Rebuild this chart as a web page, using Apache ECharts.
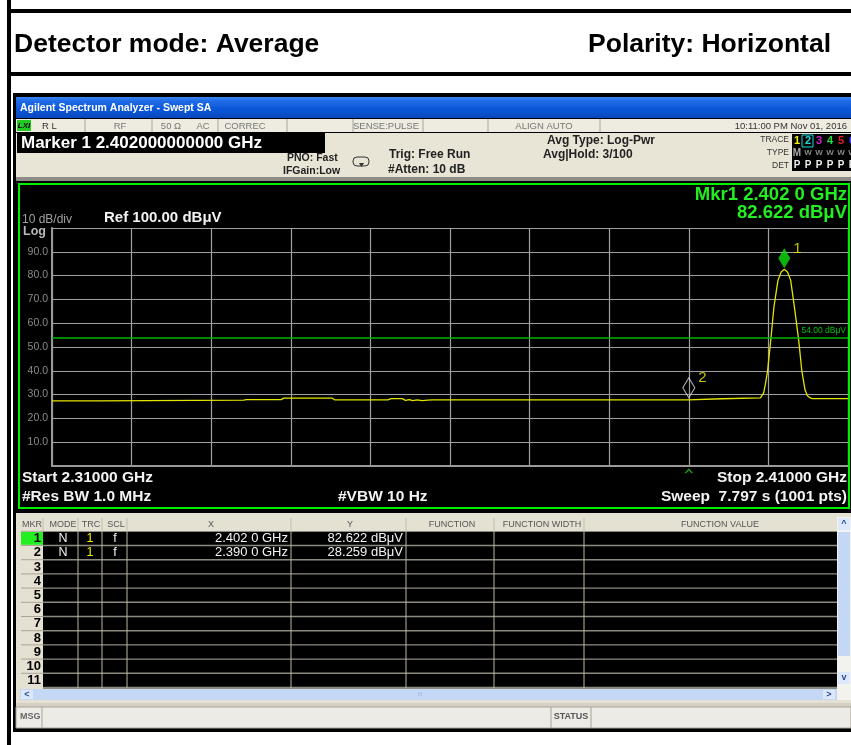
<!DOCTYPE html>
<html>
<head>
<meta charset="utf-8">
<script src="https://cdn.jsdelivr.net/npm/echarts@6/dist/echarts.min.js"></script>
<style>
html, body { margin: 0; padding: 0; background: #fff; }
#chart { width: 851px; height: 745px; }
</style>
</head>
<body>
<div id="chart"></div>
<script>
// trace 1 (average detector)
const freqGHz = [2.3100, 2.3158, 2.3160, 2.3341, 2.3344, 2.3388, 2.3391, 2.3452, 2.3455, 2.3522,
    2.3526, 2.3540, 2.3544, 2.3549, 2.3553, 2.3559, 2.3565, 2.3572, 2.3578, 2.3899,
    2.3901, 2.3942, 2.3944, 2.3990, 2.3994, 2.3996, 2.3999, 2.4003, 2.4007, 2.4012,
    2.4016, 2.4020, 2.4024, 2.4028, 2.4033, 2.4038, 2.4042, 2.4046, 2.4049, 2.4053,
    2.4056, 2.4100]
const levelDbuV = [27.4, 27.4, 27.7, 27.7, 27.9, 27.9, 28.5, 28.5, 27.8, 27.8,
    28.3, 28.3, 27.6, 27.9, 27.5, 27.8, 27.5, 27.7, 27.8, 27.8,
    28.26, 28.26, 28.6, 28.6, 30.7, 34, 40, 53, 67, 78,
    81.5, 82.62, 81.5, 78, 66, 53, 40, 32, 29.5, 28.5,
    28.3, 28.3]

// markers
const markerFreq = [2.402, 2.390]
const markerLevel = [82.622, 28.259]
const markerName = ['1', '2']
const limitDbuV = 54

// axis
const startGHz = 2.31
const stopGHz = 2.41
const refLevel = 100
const dbPerDiv = 10

// marker table
const tableHeads = ['MKR', 'MODE', 'TRC', 'SCL', 'X', 'Y', 'FUNCTION', 'FUNCTION WIDTH', 'FUNCTION VALUE']
const tableMode = ['N', 'N']
const tableTrc = ['1', '1']
const tableScl = ['f', 'f']
const tableX = ['2.402 0 GHz', '2.390 0 GHz']
const tableY = ['82.622 dBμV', '28.259 dBμV']
const tableRowCount = 11

const traceNums = ['1', '2', '3', '4', '5', '6']
const traceColors = ['#f0f000', '#20d8d8', '#d020d0', '#20e040', '#e02020', '#4040ff']
const traceTypes = ['M', 'W', 'W', 'W', 'W', 'W']

const FONT = '"Liberation Sans", Arial, sans-serif'

function txt(x, y, text, size, fill, opt) {
    opt = opt || {}
    return {
        type: 'text', z: 20, silent: true,
        style: {
            x: x, y: y, text: text, fill: fill,
            font: (opt.style || '') + ' ' + (opt.weight || 'normal') + ' ' + size + 'px ' + FONT,
            textAlign: opt.align || 'left', align: opt.align || 'left',
            textVerticalAlign: 'middle', verticalAlign: 'middle'
        }
    }
}
function box(x, y, w, h, fill, z, stroke, lw, r) {
    return {
        type: 'rect', z: z == null ? -10 : z, silent: true,
        shape: { x: x, y: y, width: w, height: h, r: r || 0 },
        style: { fill: fill, stroke: stroke || null, lineWidth: lw || 0 }
    }
}
function seg(x1, y1, x2, y2, stroke, lw, z) {
    return {
        type: 'line', z: z == null ? -5 : z, silent: true,
        shape: { x1: x1, y1: y1, x2: x2, y2: y2 },
        style: { stroke: stroke, lineWidth: lw || 1 }
    }
}

const g = []
// page frame
g.push(box(7, 0, 4, 745, '#000', -20))
g.push(box(7, 9, 844, 4, '#000', -20))
g.push(box(7, 72, 844, 4, '#000', -20))
g.push(txt(14, 45, 'Detector mode: Average', 26.5, '#000', { weight: 'bold' }))
g.push(txt(831, 45, 'Polarity: Horizontal', 26.5, '#000', { weight: 'bold', align: 'right' }))

// instrument window
g.push(box(13, 93, 838, 639, '#000', -20))
g.push(box(16, 97, 835, 21, new echarts.graphic.LinearGradient(0, 0, 0, 1, [
    { offset: 0, color: '#3a86f0' }, { offset: 0.2, color: '#1f6ae6' },
    { offset: 0.6, color: '#0a56d8' }, { offset: 1, color: '#0a48c0' }]), -18))
g.push(txt(20, 108, 'Agilent Spectrum Analyzer - Swept SA', 10.5, '#fff', { weight: 'bold' }))

// status row
g.push(box(16, 119, 835, 13, '#eeebe1', -18))
;[85, 152, 218, 287, 353, 423, 488, 600].forEach(function (x) {
    g.push(seg(x, 119, x, 132, '#a8a496', 1))
})
g.push(box(17, 120, 14, 11, '#22cc22', -17))
g.push(txt(24, 126, 'LXI', 8, '#000', { weight: 'bold', style: 'italic', align: 'center' }))
g.push(txt(42, 126, 'R L', 9.5, '#333'))
g.push(txt(120, 126, 'RF', 9.5, '#777', { align: 'center' }))
g.push(txt(171, 126, '50 Ω', 9.5, '#777', { align: 'center' }))
g.push(txt(203, 126, 'AC', 9.5, '#777', { align: 'center' }))
g.push(txt(245, 126, 'CORREC', 9.5, '#777', { align: 'center' }))
g.push(txt(386, 126, 'SENSE:PULSE', 9.5, '#777', { align: 'center' }))
g.push(txt(544, 126, 'ALIGN AUTO', 9.5, '#777', { align: 'center' }))
g.push(txt(847, 126, '10:11:00 PM Nov 01, 2016', 9.5, '#333', { align: 'right' }))

// settings panel
g.push(box(16, 133, 835, 44, '#e8e4d6', -18))
g.push(box(17, 133, 308, 20, '#000', -17))
g.push(txt(21, 143, 'Marker 1 2.402000000000 GHz', 17, '#fff', { weight: 'bold' }))
g.push(txt(287, 158, 'PNO: Fast', 10.5, '#222', { weight: 'bold' }))
g.push(txt(283, 171, 'IFGain:Low', 10.5, '#222', { weight: 'bold' }))
g.push(box(353, 157, 16, 9, null, 0, '#333', 1, 4))
g.push({ type: 'polygon', z: 5, silent: true, shape: { points: [[359, 163], [364, 163], [361.5, 167]] }, style: { fill: '#333' } })
g.push(txt(389, 155, 'Trig: Free Run', 12, '#222', { weight: 'bold' }))
g.push(txt(388, 170, '#Atten: 10 dB', 12, '#222', { weight: 'bold' }))
g.push(txt(547, 141, 'Avg Type: Log-Pwr', 12, '#222', { weight: 'bold' }))
g.push(txt(543, 155, 'Avg|Hold: 3/100', 12, '#222', { weight: 'bold' }))
g.push(txt(789, 140, 'TRACE', 8.5, '#333', { align: 'right' }))
g.push(txt(789, 153, 'TYPE', 8.5, '#333', { align: 'right' }))
g.push(txt(789, 166, 'DET', 8.5, '#333', { align: 'right' }))
g.push(box(792, 134, 59, 37, '#000', -17))
g.push(box(802, 135, 11, 12, null, 0, '#20d8d8', 1))
traceNums.forEach(function (n, i) {
    const x = 797 + i * 11
    g.push(txt(x, 141, n, 11, traceColors[i], { weight: 'bold', align: 'center' }))
    g.push(txt(x, 153, traceTypes[i], i === 0 ? 10 : 8, i === 0 ? '#aaa' : '#888', { weight: 'bold', align: 'center' }))
    g.push(txt(x, 165, 'P', 10, '#eee', { weight: 'bold', align: 'center' }))
})
g.push(box(16, 177, 835, 4, '#8e8c86', -18))

// screen annotations
g.push(box(19, 184, 830, 324, null, 5, '#00ee00', 2))
g.push(txt(22, 220, '10 dB/div', 12, '#a0a0a0'))
g.push(txt(23, 232, 'Log', 12.5, '#b8b8b8', { weight: 'bold' }))
g.push(txt(104, 218, 'Ref ' + refLevel.toFixed(2) + ' dBμV', 15, '#f2f2f2', { weight: 'bold' }))
g.push(txt(847, 195, 'Mkr1 2.402 0 GHz', 18.5, '#22ee22', { align: 'right', weight: 'bold' }))
g.push(txt(847, 213, '82.622 dBμV', 18.5, '#22ee22', { align: 'right', weight: 'bold' }))
g.push(txt(22, 478, 'Start ' + startGHz.toFixed(5) + ' GHz', 15.5, '#f2f2f2', { weight: 'bold' }))
g.push(txt(22, 497, '#Res BW 1.0 MHz', 15.5, '#f2f2f2', { weight: 'bold' }))
g.push(txt(338, 497, '#VBW 10 Hz', 15.5, '#f2f2f2', { weight: 'bold' }))
g.push(txt(847, 478, 'Stop ' + stopGHz.toFixed(5) + ' GHz', 15.5, '#f2f2f2', { weight: 'bold', align: 'right' }))
g.push(txt(847, 497, 'Sweep  7.797 s (1001 pts)', 15.5, '#f2f2f2', { weight: 'bold', align: 'right' }))

// marker table
g.push(box(16, 513, 835, 190, '#e4e0d2', -18))
g.push(box(43, 531, 794, 158, '#8c8a7e', -16))
const headX = [32, 63, 91, 116, 211, 350, 452, 542, 720]
tableHeads.forEach(function (h, i) {
    g.push(txt(headX[i], 525, h, 9, '#555', { align: 'center' }))
})
const colLines = [78, 102, 127, 291, 406, 494, 584]
;[43].concat(colLines).forEach(function (x) {
    g.push(seg(x, 518, x, 531, '#c4c0b0', 1))
})
for (let i = 0; i < tableRowCount; i++) {
    const top = 532 + i * 14.2
    const yc = top + 6.6
    g.push(box(43, top, 794, 12.8, '#000', -15))
    g.push(box(21, top, 22, 12.8, i === 0 ? '#22ee22' : '#e4e0d2', -15))
    g.push(seg(21, top - 0.7, 43, top - 0.7, '#a8a496', 1))
    g.push(txt(41, yc, String(i + 1), 13, '#000', { weight: 'bold', align: 'right' }))
    if (i < tableX.length) {
        g.push(txt(63, yc, tableMode[i], 12.5, '#f2f2f2', { align: 'center' }))
        g.push(txt(90, yc, tableTrc[i], 12.5, '#f0f000', { align: 'center' }))
        g.push(txt(115, yc, tableScl[i], 12.5, '#f2f2f2', { align: 'center' }))
        g.push(txt(288, yc, tableX[i], 13, '#f2f2f2', { align: 'right' }))
        g.push(txt(403, yc, tableY[i], 13, '#f2f2f2', { align: 'right' }))
    }
}
colLines.forEach(function (x) {
    g.push(seg(x, 531, x, 688, '#bcb8a4', 1, -4))
})
// scroll bars
g.push(box(20, 689, 817, 11, '#c4d8f6', -14))
g.push(box(21, 690, 12, 9, '#dce8fb', -13))
g.push(box(823, 690, 12, 9, '#dce8fb', -13))
g.push(txt(27, 694.5, '<', 9, '#2a4a90', { weight: 'bold', align: 'center' }))
g.push(txt(829, 694.5, '>', 9, '#2a4a90', { weight: 'bold', align: 'center' }))
g.push(txt(420, 694.5, 'III', 6, '#9fb8e0', { align: 'center' }))
g.push(box(837, 517, 14, 183, '#f2f2ee', -14))
g.push(box(838, 532, 12, 124, '#c4d8f6', -13))
g.push(box(838, 518, 12, 12, '#dce8fb', -13))
g.push(box(838, 672, 12, 12, '#dce8fb', -13))
g.push(txt(844, 524, '^', 9, '#2a4a90', { weight: 'bold', align: 'center' }))
g.push(txt(844, 678, 'v', 9, '#2a4a90', { weight: 'bold', align: 'center' }))
// message bar
g.push(box(16, 703, 835, 4, '#d4d0c4', -14))
g.push(box(16, 707, 835, 21, '#ecebe6', -14, '#a8a496', 1))
g.push(txt(20, 717, 'MSG', 9, '#666', { weight: 'bold' }))
g.push(seg(42, 707, 42, 728, '#a8a496', 1))
g.push(seg(551, 707, 551, 728, '#a8a496', 1))
g.push(seg(591, 707, 591, 728, '#a8a496', 1))
g.push(txt(571, 717, 'STATUS', 9, '#555', { weight: 'bold', align: 'center' }))

const traceData = freqGHz.map(function (f, i) { return [f, levelDbuV[i]] })

const option = {
    animation: false,
    backgroundColor: '#fff',
    graphic: { elements: g },
    grid: { left: 52, top: 228, width: 796, height: 238, show: false },
    xAxis: {
        type: 'value',
        min: startGHz,
        max: stopGHz,
        interval: (stopGHz - startGHz) / 10,
        axisLabel: { show: false },
        axisTick: { show: false },
        axisLine: { show: true, lineStyle: { color: '#9a9a9a', width: 2 } },
        splitLine: { show: true, lineStyle: { color: '#a0a0a0', width: 1.2 } }
    },
    yAxis: {
        type: 'value',
        min: refLevel - 10 * dbPerDiv,
        max: refLevel,
        interval: dbPerDiv,
        axisTick: { show: false },
        axisLine: { show: true, lineStyle: { color: '#9a9a9a', width: 2 } },
        splitLine: { show: true, lineStyle: { color: '#a0a0a0', width: 1.2 } },
        axisLabel: {
            margin: 4,
            fontSize: 10.5,
            fontFamily: FONT,
            color: '#8a8a8a',
            formatter: function (v) {
                return (v <= 0 || v >= refLevel) ? '' : v.toFixed(1)
            }
        }
    },
    series: [{
        name: 'Trace 1',
        type: 'line',
        data: traceData,
        showSymbol: false,
        lineStyle: { color: '#e4e400', width: 1.3 },
        z: 4,
        markLine: {
            silent: true,
            symbol: 'none',
            lineStyle: { color: '#00b400', width: 1.5, type: 'solid' },
            label: {
                position: 'insideEndTop',
                formatter: limitDbuV.toFixed(2) + ' dBμV',
                color: '#00c000',
                fontSize: 8.5,
                fontFamily: FONT,
                distance: 2
            },
            data: [{ yAxis: limitDbuV }]
        }
    }, {
        name: 'Marker 1',
        type: 'scatter',
        data: [[markerFreq[0], markerLevel[0]]],
        symbol: 'diamond',
        symbolSize: [12, 20],
        symbolOffset: [0, -11],
        itemStyle: { color: '#10e010' },
        z: 6,
        label: {
            show: true, position: 'right', formatter: markerName[0],
            color: '#f0f000', fontSize: 15, fontFamily: FONT, distance: 3, offset: [0, -10]
        }
    }, {
        name: 'Marker 2',
        type: 'scatter',
        data: [[markerFreq[1], markerLevel[1]]],
        symbol: 'diamond',
        symbolSize: [12, 20],
        symbolOffset: [0, -11],
        itemStyle: { color: 'rgba(0,0,0,0)', borderColor: '#d8d8d8', borderWidth: 1.2 },
        z: 6,
        label: {
            show: true, position: 'right', formatter: markerName[1],
            color: '#f0f000', fontSize: 15, fontFamily: FONT, distance: 3, offset: [0, -10]
        }
    }, {
        name: 'Active marker',
        type: 'scatter',
        clip: false,
        data: [[markerFreq[1], refLevel - 10 * dbPerDiv]],
        symbol: 'path://M0,5L4,0L8,5L7,6L4,2L1,6Z',
        symbolSize: [8, 5],
        symbolOffset: [0, 5],
        itemStyle: { color: '#20e020' },
        z: 6
    }]
}

const chart = echarts.init(document.getElementById('chart'))
chart.setOption(option)
</script>
</body>
</html>
